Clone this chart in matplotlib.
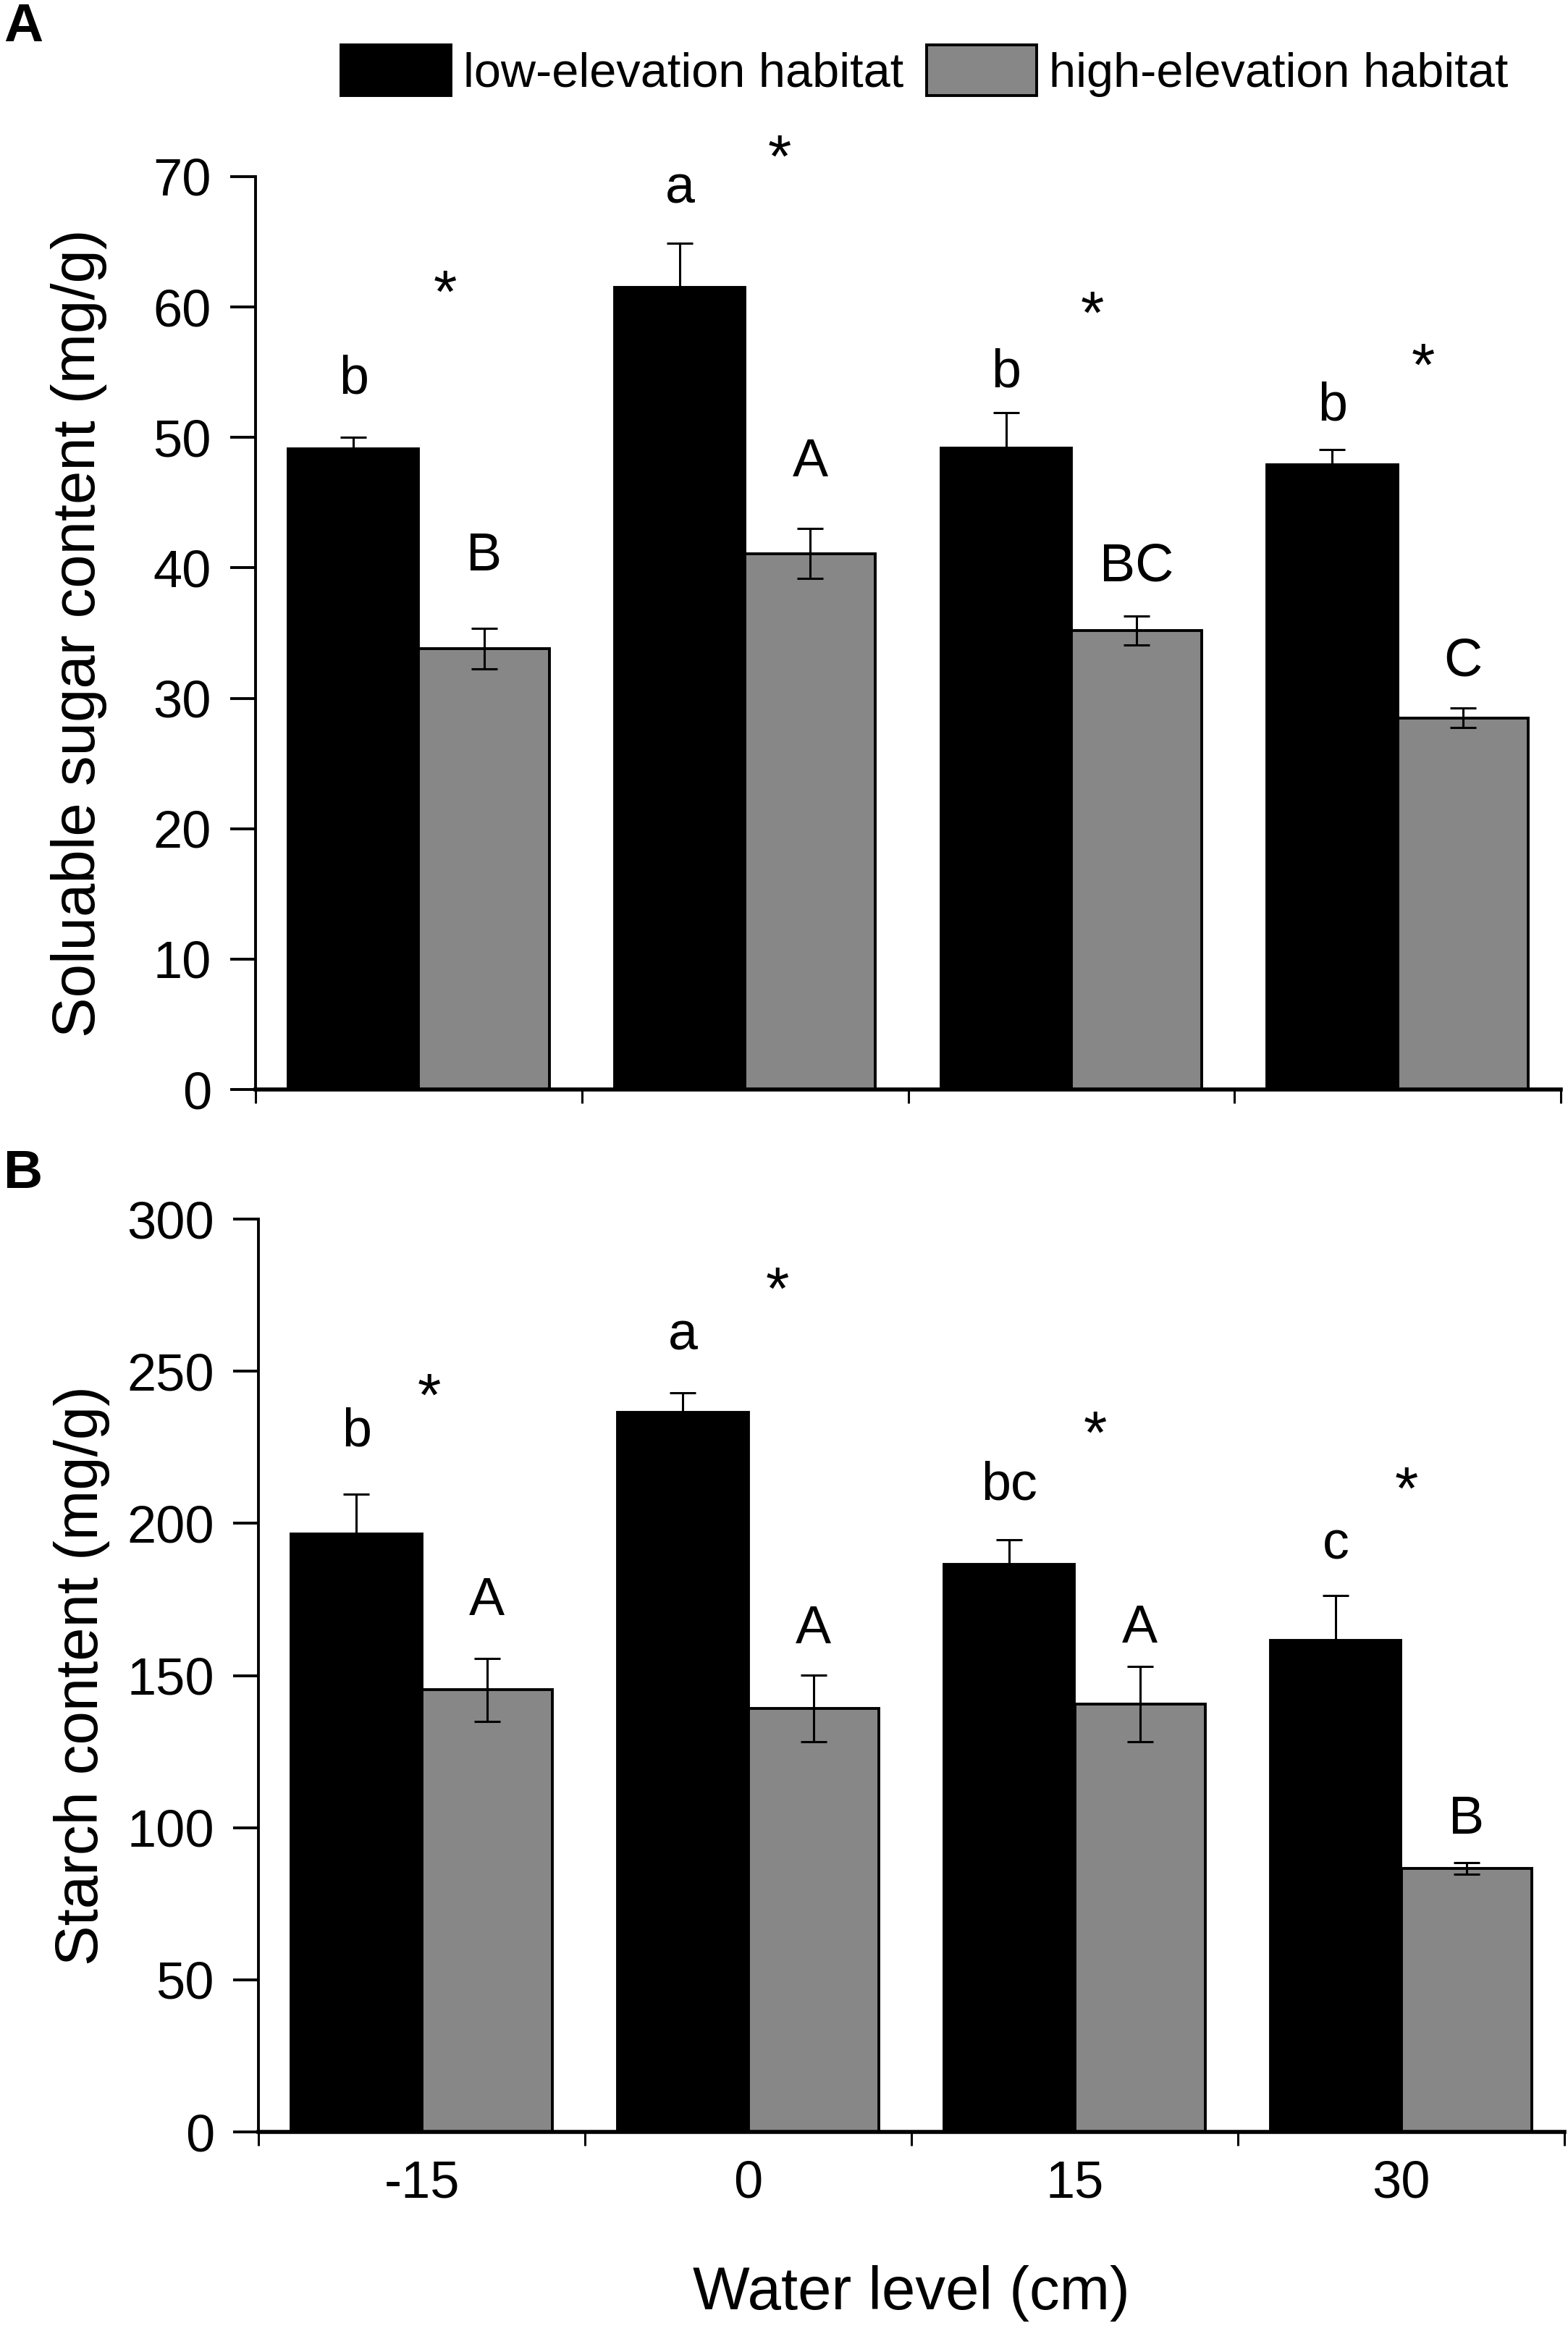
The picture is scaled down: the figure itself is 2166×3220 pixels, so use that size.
import matplotlib
matplotlib.use("Agg")
import matplotlib.pyplot as plt
import numpy as np
from matplotlib.patches import Patch

plt.rcParams['font.family'] = ['Liberation Sans', 'DejaVu Sans']

# ---------------- data ----------------
water_levels = ["-15", "0", "15", "30"]
series_names = ["low-elevation habitat", "high-elevation habitat"]

sugar_low = [49.1, 61.5, 49.2, 47.9]
sugar_low_err = [0.9, 3.4, 2.7, 1.15]
sugar_high = [33.8, 41.1, 35.2, 28.5]
sugar_high_err = [1.55, 1.9, 1.1, 0.75]
sugar_low_letters = ["b", "a", "b", "b"]
sugar_high_letters = ["B", "A", "BC", "C"]
sugar_low_letter_y = [53.4, 68.0, 53.9, 51.3]
sugar_high_letter_y = [39.8, 47.0, 39.0, 31.7]
sugar_star_y = [62.2, 72.6, 60.6, 56.6]
sugar_star_dx = [0.08, 0.106, 0.064, 0.078]

starch_low = [196.4, 236.5, 186.4, 161.5]
starch_low_err = [13.1, 6.5, 8.3, 14.7]
starch_high = [145.3, 139.2, 140.6, 86.6]
starch_high_err = [10.4, 11.0, 12.3, 1.9]
starch_low_letters = ["b", "a", "bc", "c"]
starch_high_letters = ["A", "A", "A", "B"]
starch_low_letter_y = [225.4, 257.0, 207.9, 188.3]
starch_high_letter_y = [169.9, 160.6, 160.9, 98.1]
starch_star_y = [246.7, 281.7, 234.4, 216.0]
starch_star_dx = [0.022, 0.09, 0.064, 0.016]

# ---------------- style ----------------
W, H, DPI = 2166, 3220, 200
BLACK = "#000000"
GRAY = "#878787"
TICK_FS = 26
ANNOT_FS = 26.5
STAR_FS = 30
LABEL_FS = 30
LEG_FS = 24
PANEL_FS = 27

fig = plt.figure(figsize=(W / DPI, H / DPI), dpi=DPI)

def px_axes(left, right, top, bottom):
    return fig.add_axes([left / W, 1 - bottom / H, (right - left) / W, (bottom - top) / H])

axA = px_axes(353, 2156, 244, 1505)
axB = px_axes(357, 2161, 1684, 2945)

x = np.arange(len(water_levels))
bw = 0.4

def draw(ax, low, lowe, high, highe, lowlet, highlet, lowy, highy, stary, stardx,
         ymax, ystep, ylabel, show_xt):
    ekw = dict(elinewidth=1.1, capthick=1.1, ecolor="black")
    ax.bar(x - bw / 2, low, bw, color=BLACK, edgecolor="black", linewidth=1.4,
           yerr=lowe, capsize=6.5, error_kw=ekw, zorder=2)
    ax.bar(x + bw / 2, high, bw, color=GRAY, edgecolor="black", linewidth=1.4,
           yerr=highe, capsize=6.5, error_kw=ekw, zorder=2)
    for i in range(len(x)):
        ax.text(x[i] - bw / 2, lowy[i], lowlet[i], ha="center", va="baseline",
                fontsize=ANNOT_FS, clip_on=False)
        ax.text(x[i] + bw / 2, highy[i], highlet[i], ha="center", va="baseline",
                fontsize=ANNOT_FS, clip_on=False)
        ax.annotate("*", xy=(x[i] + stardx[i], stary[i]), xytext=(0, -0.57 * STAR_FS),
                    textcoords="offset points", ha="center", va="baseline",
                    fontsize=STAR_FS, annotation_clip=False)
    ax.set_xlim(-0.5, len(x) - 0.5)
    ax.set_ylim(0, ymax)
    ax.set_yticks(np.arange(0, ymax + 1, ystep))
    ax.set_xticks(np.arange(-0.5, len(x) + 0.5, 1.0))
    ax.set_xticklabels([])
    ax.set_xticks(x, minor=True)
    if show_xt:
        ax.set_xticklabels(water_levels, minor=True)
    ax.tick_params(axis="x", which="minor", length=0, pad=14, labelsize=TICK_FS)
    ax.tick_params(axis="x", which="major", direction="out", length=7, width=1.1)
    ax.tick_params(axis="y", direction="out", length=12.5, width=1.4, pad=9.5,
                   labelsize=TICK_FS)
    for s in ["top", "right"]:
        ax.spines[s].set_visible(False)
    ax.spines["left"].set_linewidth(1.4)
    ax.spines["bottom"].set_linewidth(2.0)
    ax.set_ylabel(ylabel, fontsize=LABEL_FS)
    ax.yaxis.set_label_coords(-0.1137, 0.5)

draw(axA, sugar_low, sugar_low_err, sugar_high, sugar_high_err,
     sugar_low_letters, sugar_high_letters, sugar_low_letter_y, sugar_high_letter_y,
     sugar_star_y, sugar_star_dx, 70, 10, "Soluable sugar content (mg/g)", False)
draw(axB, starch_low, starch_low_err, starch_high, starch_high_err,
     starch_low_letters, starch_high_letters, starch_low_letter_y, starch_high_letter_y,
     starch_star_y, starch_star_dx, 300, 50, "Starch content (mg/g)", True)

fig.text(1259 / W, 1 - 3190 / H, "Water level (cm)", ha="center", va="baseline",
         fontsize=LABEL_FS)

fig.text(5 / W, 1 - 57 / H, "A", ha="left", va="baseline", fontsize=PANEL_FS,
         fontweight="bold")
fig.text(5 / W, 1 - 1641 / H, "B", ha="left", va="baseline", fontsize=PANEL_FS,
         fontweight="bold")

handles = [Patch(facecolor=BLACK, edgecolor="black", linewidth=1.4),
           Patch(facecolor=GRAY, edgecolor="black", linewidth=1.4)]
fig.legend(handles, series_names, loc="upper left",
           bbox_to_anchor=(471 / W, 1 - 62 / H), ncol=2, frameon=False,
           fontsize=LEG_FS, handlelength=2.28, handleheight=1.25,
           handletextpad=0.25, columnspacing=0.48, borderpad=0, borderaxespad=0)

fig.savefig("out.png", dpi=DPI)
